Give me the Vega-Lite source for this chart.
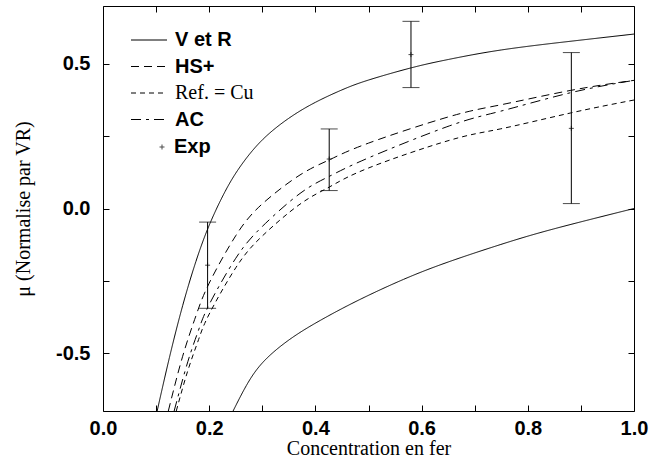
{
  "$schema": "https://vega.github.io/schema/vega-lite/v6.json",
  "width": 531,
  "height": 405,
  "autosize": "none",
  "padding": {"left": 103, "top": 6, "right": 16, "bottom": 62},
  "background": "white",
  "config": {
    "view": {"stroke": "black", "strokeWidth": 1},
    "axis": {
      "grid": false, "domain": false, "tickColor": "black", "tickSize": -6, "tickWidth": 1,
      "labelColor": "black", "titleColor": "black",
      "labelFont": "Liberation Sans", "labelFontWeight": "bold", "labelFontSize": 20,
      "titleFont": "Liberation Serif", "titleFontWeight": "normal", "titleFontSize": 20
    }
  },
  "datasets": {
    "courbes": [
      {"modele": "V et R", "branche": "haut", "x": 0.102, "y": -0.70},
      {"modele": "V et R", "branche": "haut", "x": 0.125, "y": -0.516},
      {"modele": "V et R", "branche": "haut", "x": 0.15, "y": -0.336},
      {"modele": "V et R", "branche": "haut", "x": 0.175, "y": -0.183},
      {"modele": "V et R", "branche": "haut", "x": 0.2, "y": -0.058},
      {"modele": "V et R", "branche": "haut", "x": 0.23, "y": 0.059},
      {"modele": "V et R", "branche": "haut", "x": 0.26, "y": 0.149},
      {"modele": "V et R", "branche": "haut", "x": 0.30, "y": 0.237},
      {"modele": "V et R", "branche": "haut", "x": 0.35, "y": 0.312},
      {"modele": "V et R", "branche": "haut", "x": 0.40, "y": 0.367},
      {"modele": "V et R", "branche": "haut", "x": 0.45, "y": 0.41},
      {"modele": "V et R", "branche": "haut", "x": 0.50, "y": 0.444},
      {"modele": "V et R", "branche": "haut", "x": 0.58, "y": 0.486},
      {"modele": "V et R", "branche": "haut", "x": 0.65, "y": 0.515},
      {"modele": "V et R", "branche": "haut", "x": 0.75, "y": 0.548},
      {"modele": "V et R", "branche": "haut", "x": 0.88, "y": 0.578},
      {"modele": "V et R", "branche": "haut", "x": 1.0, "y": 0.603},
      {"modele": "V et R", "branche": "bas", "x": 0.245, "y": -0.70},
      {"modele": "V et R", "branche": "bas", "x": 0.27, "y": -0.612},
      {"modele": "V et R", "branche": "bas", "x": 0.302, "y": -0.53},
      {"modele": "V et R", "branche": "bas", "x": 0.352, "y": -0.452},
      {"modele": "V et R", "branche": "bas", "x": 0.409, "y": -0.387},
      {"modele": "V et R", "branche": "bas", "x": 0.48, "y": -0.318},
      {"modele": "V et R", "branche": "bas", "x": 0.566, "y": -0.245},
      {"modele": "V et R", "branche": "bas", "x": 0.65, "y": -0.185},
      {"modele": "V et R", "branche": "bas", "x": 0.748, "y": -0.125},
      {"modele": "V et R", "branche": "bas", "x": 0.848, "y": -0.071},
      {"modele": "V et R", "branche": "bas", "x": 1.0, "y": 0.0},
      {"modele": "HS+", "branche": "un", "x": 0.123, "y": -0.70},
      {"modele": "HS+", "branche": "un", "x": 0.15, "y": -0.511},
      {"modele": "HS+", "branche": "un", "x": 0.175, "y": -0.371},
      {"modele": "HS+", "branche": "un", "x": 0.2, "y": -0.258},
      {"modele": "HS+", "branche": "un", "x": 0.25, "y": -0.094},
      {"modele": "HS+", "branche": "un", "x": 0.30, "y": 0.016},
      {"modele": "HS+", "branche": "un", "x": 0.371, "y": 0.116},
      {"modele": "HS+", "branche": "un", "x": 0.426, "y": 0.168},
      {"modele": "HS+", "branche": "un", "x": 0.50, "y": 0.226},
      {"modele": "HS+", "branche": "un", "x": 0.653, "y": 0.318},
      {"modele": "HS+", "branche": "un", "x": 0.748, "y": 0.358},
      {"modele": "HS+", "branche": "un", "x": 0.88, "y": 0.408},
      {"modele": "HS+", "branche": "un", "x": 1.0, "y": 0.443},
      {"modele": "Ref. = Cu", "branche": "un", "x": 0.138, "y": -0.70},
      {"modele": "Ref. = Cu", "branche": "un", "x": 0.16, "y": -0.559},
      {"modele": "Ref. = Cu", "branche": "un", "x": 0.18, "y": -0.453},
      {"modele": "Ref. = Cu", "branche": "un", "x": 0.2, "y": -0.365},
      {"modele": "Ref. = Cu", "branche": "un", "x": 0.25, "y": -0.205},
      {"modele": "Ref. = Cu", "branche": "un", "x": 0.30, "y": -0.095},
      {"modele": "Ref. = Cu", "branche": "un", "x": 0.371, "y": 0.015},
      {"modele": "Ref. = Cu", "branche": "un", "x": 0.426, "y": 0.074},
      {"modele": "Ref. = Cu", "branche": "un", "x": 0.50, "y": 0.14},
      {"modele": "Ref. = Cu", "branche": "un", "x": 0.653, "y": 0.236},
      {"modele": "Ref. = Cu", "branche": "un", "x": 0.748, "y": 0.275},
      {"modele": "Ref. = Cu", "branche": "un", "x": 0.88, "y": 0.33},
      {"modele": "Ref. = Cu", "branche": "un", "x": 1.0, "y": 0.375},
      {"modele": "AC", "branche": "un", "x": 0.134, "y": -0.70},
      {"modele": "AC", "branche": "un", "x": 0.16, "y": -0.528},
      {"modele": "AC", "branche": "un", "x": 0.18, "y": -0.42},
      {"modele": "AC", "branche": "un", "x": 0.2, "y": -0.332},
      {"modele": "AC", "branche": "un", "x": 0.25, "y": -0.172},
      {"modele": "AC", "branche": "un", "x": 0.30, "y": -0.062},
      {"modele": "AC", "branche": "un", "x": 0.371, "y": 0.052},
      {"modele": "AC", "branche": "un", "x": 0.426, "y": 0.111},
      {"modele": "AC", "branche": "un", "x": 0.50, "y": 0.175},
      {"modele": "AC", "branche": "un", "x": 0.653, "y": 0.286},
      {"modele": "AC", "branche": "un", "x": 0.748, "y": 0.336},
      {"modele": "AC", "branche": "un", "x": 0.88, "y": 0.40},
      {"modele": "AC", "branche": "un", "x": 1.0, "y": 0.443}
    ],
    "exp": [
      {"serie": "Exp", "x": 0.197, "y": -0.196, "bas": -0.345, "haut": -0.047},
      {"serie": "Exp", "x": 0.426, "y": 0.171, "bas": 0.062, "haut": 0.275},
      {"serie": "Exp", "x": 0.58, "y": 0.532, "bas": 0.418, "haut": 0.647},
      {"serie": "Exp", "x": 0.882, "y": 0.277, "bas": 0.017, "haut": 0.539}
    ]
  },
  "layer": [
    {
      "data": {"name": "courbes"},
      "mark": {"type": "line", "interpolate": "natural", "strokeWidth": 1, "color": "black", "clip": true},
      "encoding": {
        "x": {
          "field": "x", "type": "quantitative",
          "scale": {"domain": [0, 1], "nice": false, "zero": false},
          "axis": {
            "orient": "bottom",
            "values": [0, 0.1, 0.2, 0.3, 0.4, 0.5, 0.6, 0.7, 0.8, 0.9, 1.0],
            "labelExpr": "round(datum.value*10) % 2 == 0 ? format(datum.value, '.1f') : ''",
            "labelPadding": 13,
            "labelFlush": false,
            "title": "Concentration en fer",
            "titlePadding": 0
          }
        },
        "y": {
          "field": "y", "type": "quantitative",
          "scale": {"domain": [-0.7, 0.7], "nice": false, "zero": false},
          "axis": {
            "orient": "left",
            "values": [-0.5, -0.25, 0, 0.25, 0.5],
            "labelExpr": "abs(datum.value*2 - round(datum.value*2)) < 0.001 ? (datum.value < 0 ? '-' + format(-datum.value, '.1f') : format(datum.value, '.1f')) : ''",
            "labelPadding": 19,
            "title": "μ (Normalise par VR)",
            "titlePadding": 22
          }
        },
        "strokeDash": {
          "field": "modele", "type": "nominal",
          "scale": {"domain": ["V et R", "HS+", "Ref. = Cu", "AC"], "range": [[1, 0], [8, 5], [5, 4], [10, 5, 3, 5]]},
          "legend": {
            "title": null, "orient": "none", "legendX": 36, "legendY": 24, "padding": 0,
            "symbolType": "M-3,0H3", "symbolSize": 144, "symbolStrokeWidth": 1,
            "symbolStrokeColor": "black", "symbolFillColor": "transparent",
            "labelFont": "Liberation Sans", "labelFontWeight": "bold", "labelFontSize": 20,
            "labelColor": "black", "labelOffset": 16, "rowPadding": 6.5,
            "encode": {
              "labels": {
                "update": {
                  "font": {"signal": "datum.label === 'Ref. = Cu' ? 'Liberation Serif' : 'Liberation Sans'"},
                  "fontWeight": {"signal": "datum.label === 'Ref. = Cu' ? 'normal' : 'bold'"}
                }
              }
            }
          }
        },
        "detail": {"field": "branche", "type": "nominal"}
      }
    },
    {
      "data": {"name": "exp"},
      "mark": {"type": "rule", "color": "black", "strokeWidth": 1},
      "encoding": {
        "x": {
          "field": "x", "type": "quantitative",
          "scale": {"domain": [0, 1], "nice": false, "zero": false},
          "axis": {"orient": "top", "values": [0, 0.1, 0.2, 0.3, 0.4, 0.5, 0.6, 0.7, 0.8, 0.9, 1.0], "labels": false, "title": null}
        },
        "y": {
          "field": "bas", "type": "quantitative",
          "scale": {"domain": [-0.7, 0.7], "nice": false, "zero": false},
          "axis": {"orient": "right", "values": [-0.5, -0.25, 0, 0.25, 0.5], "labels": false, "title": null}
        },
        "y2": {"field": "haut"}
      }
    },
    {
      "data": {"name": "exp"},
      "mark": {"type": "tick", "orient": "horizontal", "size": 17, "thickness": 1, "color": "black"},
      "encoding": {
        "x": {"field": "x", "type": "quantitative", "axis": null},
        "y": {"field": "bas", "type": "quantitative", "axis": null}
      }
    },
    {
      "data": {"name": "exp"},
      "mark": {"type": "tick", "orient": "horizontal", "size": 17, "thickness": 1, "color": "black"},
      "encoding": {
        "x": {"field": "x", "type": "quantitative", "axis": null},
        "y": {"field": "haut", "type": "quantitative", "axis": null}
      }
    },
    {
      "data": {"name": "exp"},
      "mark": {"type": "point", "filled": false, "color": "black", "strokeWidth": 1, "size": 25},
      "encoding": {
        "x": {"field": "x", "type": "quantitative", "axis": null},
        "y": {"field": "y", "type": "quantitative", "axis": null},
        "shape": {
          "field": "serie", "type": "nominal",
          "scale": {"domain": ["Exp"], "range": ["M-1,0H1M0,-1V1"]},
          "legend": {
            "title": null, "orient": "none", "legendX": 49, "legendY": 131, "padding": 0,
            "symbolSize": 25, "symbolStrokeWidth": 1, "symbolStrokeColor": "black", "symbolFillColor": "transparent",
            "labelFont": "Liberation Sans", "labelFontWeight": "bold", "labelFontSize": 20,
            "labelColor": "black", "labelOffset": 2
          }
        }
      }
    }
  ],
  "resolve": {"axis": {"x": "independent", "y": "independent"}}
}
